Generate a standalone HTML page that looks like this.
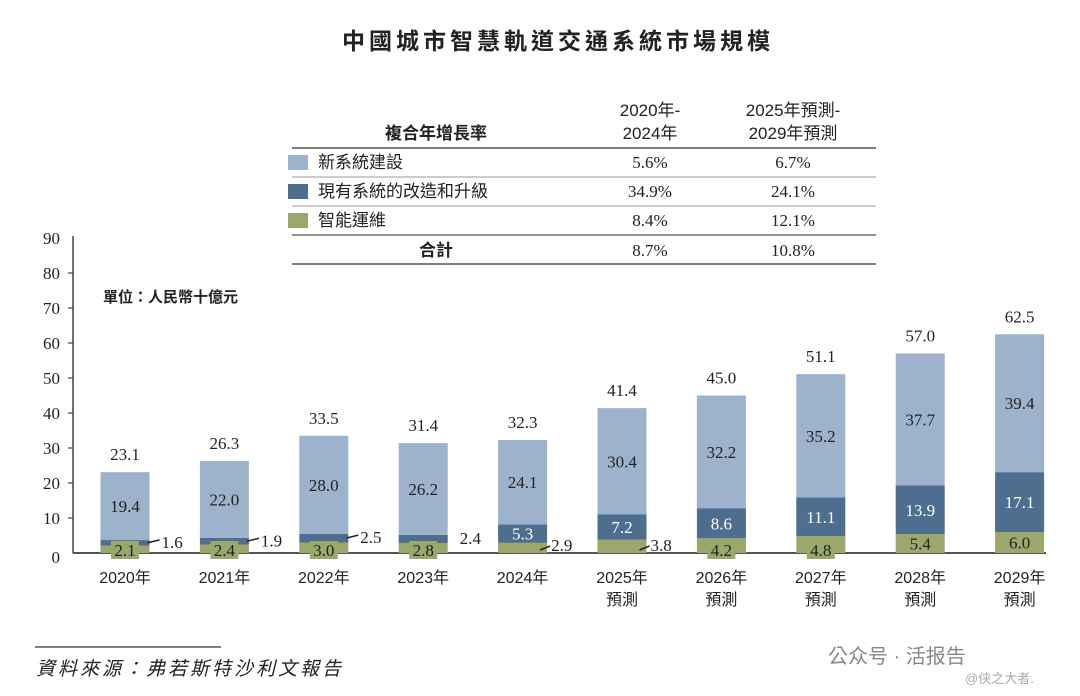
<!DOCTYPE html>
<html><head><meta charset="utf-8"><style>
body{margin:0;background:#fff;}
svg{display:block;font-family:"Liberation Serif","Noto Serif CJK SC",serif;}
.cjk{font-family:"Liberation Sans","Noto Sans CJK TC",sans-serif;}
</style></head><body>
<svg id="chart" width="1080" height="696" viewBox="0 0 1080 696">
<text x="558" y="49" text-anchor="middle" class="cjk" font-size="23" font-weight="bold" letter-spacing="4" fill="#222">中國城市智慧軌道交通系統市場規模</text>
<g font-size="17" fill="#222">
<text x="436" y="139" text-anchor="middle" class="cjk" font-weight="bold">複合年增長率</text>
<text x="650" y="116" text-anchor="middle" class="cjk">2020年-</text>
<text x="650" y="139" text-anchor="middle" class="cjk">2024年</text>
<text x="793" y="116" text-anchor="middle" class="cjk">2025年預測-</text>
<text x="793" y="139" text-anchor="middle" class="cjk">2029年預測</text>
<line x1="292" y1="148" x2="876" y2="148" stroke="#555" stroke-width="1.5"/>
<rect x="288" y="155" width="20" height="15" fill="#9db2cb"/>
<text x="318" y="168" class="cjk">新系統建設</text>
<text x="650" y="168" text-anchor="middle">5.6%</text><text x="793" y="168" text-anchor="middle">6.7%</text>
<line x1="292" y1="177" x2="876" y2="177" stroke="#999" stroke-width="1"/>
<rect x="288" y="184" width="20" height="15" fill="#4d6e8f"/>
<text x="318" y="197" class="cjk">現有系統的改造和升級</text>
<text x="650" y="197" text-anchor="middle">34.9%</text><text x="793" y="197" text-anchor="middle">24.1%</text>
<line x1="292" y1="206" x2="876" y2="206" stroke="#999" stroke-width="1"/>
<rect x="288" y="213" width="20" height="15" fill="#9aa86b"/>
<text x="318" y="226" class="cjk">智能運維</text>
<text x="650" y="226" text-anchor="middle">8.4%</text><text x="793" y="226" text-anchor="middle">12.1%</text>
<line x1="292" y1="235" x2="876" y2="235" stroke="#555" stroke-width="1.2"/>
<text x="436" y="256" text-anchor="middle" class="cjk" font-weight="bold">合計</text>
<text x="650" y="256" text-anchor="middle">8.7%</text><text x="793" y="256" text-anchor="middle">10.8%</text>
<line x1="292" y1="264" x2="876" y2="264" stroke="#555" stroke-width="1.5"/>
</g>
<text x="103" y="302" class="cjk" font-size="15" font-weight="bold" fill="#222">單位：人民幣十億元</text>
<g id="axes"></g><g id="bars"></g>
<line x1="35" y1="647" x2="221" y2="647" stroke="#333" stroke-width="1.2"/>
<text x="36" y="675" class="cjk" font-size="19" font-style="italic" letter-spacing="3" fill="#222">資料來源：弗若斯特沙利文報告</text>
<text x="828" y="663" class="cjk" font-size="20" fill="#888">公众号 · 活报告</text>
<text x="965" y="683" class="cjk" font-size="13" fill="#aaa">@侠之大者.</text>
</svg>
<script>
const categories=["2020年","2021年","2022年","2023年","2024年","2025年","2026年","2027年","2028年","2029年"];
const forecast=[false,false,false,false,false,true,true,true,true,true];
const newBuild=[19.4,22.0,28.0,26.2,24.1,30.4,32.2,35.2,37.7,39.4];
const upgrade=[1.6,1.9,2.5,2.4,5.3,7.2,8.6,11.1,13.9,17.1];
const maint=[2.1,2.4,3.0,2.8,2.9,3.8,4.2,4.8,5.4,6.0];
const totals=[23.1,26.3,33.5,31.4,32.3,41.4,45.0,51.1,57.0,62.5];
const yTicks=[0,10,20,30,40,50,60,70,80,90];
const NS="http://www.w3.org/2000/svg";
const y0=553,ppu=3.5,x0=125,step=99.4,bw=49;
const y=v=>y0-v*ppu, xc=i=>x0+i*step;
function mk(tag,attrs,parent,txt){const e=document.createElementNS(NS,tag);for(const k in attrs)e.setAttribute(k,attrs[k]);if(txt!==undefined)e.textContent=txt;parent.appendChild(e);return e;}
const ax=document.getElementById('axes'),bg=document.getElementById('bars');
const yl=mk('line',{x1:73,y1:236,x2:73,y2:y0,stroke:'#444','stroke-width':1.5},ax);


yTicks.forEach(t=>{
 if(t>0&&t<90){const tk=mk('line',{x1:68,y1:y(t),x2:73,y2:y(t),stroke:'#444','stroke-width':1.2},ax);
 
 }
 const lb=mk('text',{x:60,y:y(t)+(t==0?10:6),'text-anchor':'end','font-size':17,fill:'#222'},ax,String(t));
 
 
});
const xl=mk('line',{x1:73,y1:y0,x2:1046,y2:y0,stroke:'#555','stroke-width':2},ax);


categories.forEach((c,i)=>{
 const cx=xc(i),L=cx-bw/2;
 const g=mk('g',{},bg);
 
 
 const m=maint[i],u=upgrade[i],n=newBuild[i];
 const rm=mk('rect',{x:L,y:y(m),width:bw,height:m*ppu,fill:'#9aa86b'},g);
 
 
 const ru=mk('rect',{x:L,y:y(m+u),width:bw,height:u*ppu,fill:'#4d6e8f'},g);
 
 
 const rn=mk('rect',{x:L,y:y(m+u+n),width:bw,height:n*ppu,fill:'#9db2cb'},g);
 
 
 const big=u>=5;
 const tn=mk('text',{x:cx,y:y(m+u+n/2)+6,'text-anchor':'middle','font-size':17,fill:'#222'},g,n.toFixed(1));
 
 
 if(big){
  const tu=mk('text',{x:cx,y:y(m+u/2)+6,'text-anchor':'middle','font-size':17,fill:'#fff'},g,u.toFixed(1));
  
  
 }else{
  if(i!==3){mk('line',{x1:L+bw-2,y1:y(m+u/2),x2:L+bw+10,y2:y(m+u/2)-3,stroke:'#222','stroke-width':1.5},g);}
  const tu=mk('text',{x:L+bw+12,y:y(m+u/2)+5,'font-size':17,fill:'#222'},g,u.toFixed(1));
  
  
 }
 if(i>=4&&i<=5){
  mk('line',{x1:L+bw-7,y1:y0-3,x2:L+bw+3,y2:y0-7,stroke:'#222','stroke-width':1.5},g);
  const tm=mk('text',{x:L+bw+4,y:y0-2,'font-size':17,fill:'#222'},g,m.toFixed(1));
  
  
 }else{
  const needBox=m<5;
  if(needBox) mk('rect',{x:cx-14,y:y0-12,width:28,height:18,fill:'#9aa86b'},g);
  const tm=mk('text',{x:cx,y:needBox?y0+3:y(m/2)+6,'text-anchor':'middle','font-size':17,fill:'#222'},g,m.toFixed(1));
  
  
 }
 const tt=mk('text',{x:cx,y:y(m+u+n)-12,'text-anchor':'middle','font-size':17,fill:'#222'},g,totals[i].toFixed(1));
 
 
 const xlb=mk('text',{x:cx,y:583,'text-anchor':'middle','font-size':16,fill:'#222',class:'cjk'},bg,c);
 
 
 if(forecast[i]){const f=mk('text',{x:cx,y:605,'text-anchor':'middle','font-size':16,fill:'#222',class:'cjk'},bg,'預測');
 
 }
});
</script>
</body></html>
